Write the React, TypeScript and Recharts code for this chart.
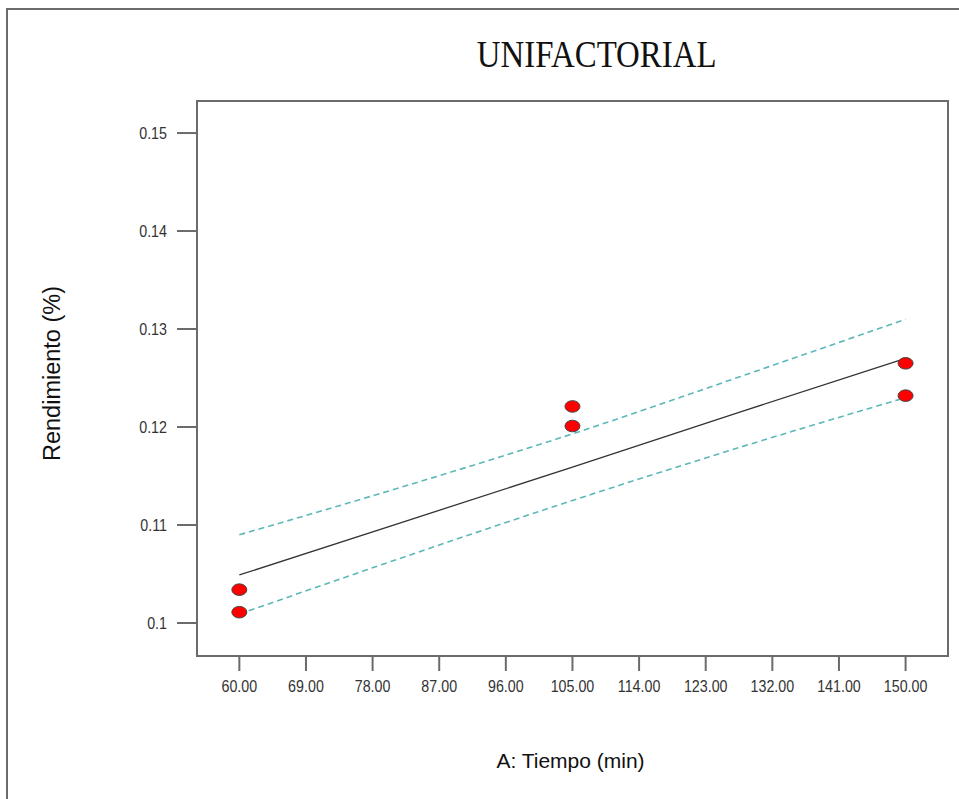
import {
  ComposedChart,
  Scatter,
  Line,
  XAxis,
  YAxis,
  ReferenceArea,
} from "recharts";

// observed runs
const tiempos = [60, 60, 105, 105, 150, 150];
const rendimientos = [0.1034, 0.1011, 0.1221, 0.1201, 0.1265, 0.1232];

// fitted line and 95% band
const bandX = [60, 82.5, 105, 127.5, 150];
const ajuste = [0.1049, 0.1104, 0.1159, 0.1215, 0.127];
const superior = [0.109, 0.114, 0.1193, 0.1251, 0.131];
const inferior = [0.1009, 0.1068, 0.1125, 0.1179, 0.123];

const xTicks = [60, 69, 78, 87, 96, 105, 114, 123, 132, 141, 150];
const yTicks = [0.1, 0.11, 0.12, 0.13, 0.14, 0.15];
const yTickLabels = ["0.1", "0.11", "0.12", "0.13", "0.14", "0.15"];

const X_DOMAIN = [54.28, 155.73];
const Y_DOMAIN = [0.09663, 0.15327];

const AXIS = "#6b6b6b";
const BAND = "#5cb8b8";
const SANS = "'Liberation Sans', Arial, sans-serif";

const puntos = tiempos.map((t, i) => ({ x: t, y: rendimientos[i] }));
const lineaAjuste = bandX.map((x, i) => ({ x, y: ajuste[i] }));
const lineaSup = bandX.map((x, i) => ({ x, y: superior[i] }));
const lineaInf = bandX.map((x, i) => ({ x, y: inferior[i] }));

function Punto(props: any) {
  const { cx, cy } = props;
  if (cx == null || cy == null) return null;
  return <ellipse cx={cx} cy={cy} rx={7.5} ry={5.8} fill="#ff0000" stroke="#444" strokeWidth={1} />;
}

function XTick(props: any) {
  const { x, y, payload } = props;
  return (
    <text
      transform={`translate(${x},${y}) scale(0.84,1)`}
      textAnchor="middle"
      dy="0.71em"
      fontSize={17}
      fontFamily={SANS}
      fill="#333"
    >
      {Number(payload.value).toFixed(2)}
    </text>
  );
}

function YTick(props: any) {
  const { x, y, payload } = props;
  const i = yTicks.indexOf(payload.value);
  return (
    <text
      transform={`translate(${x},${y}) scale(0.84,1)`}
      textAnchor="end"
      dy="0.355em"
      fontSize={17}
      fontFamily={SANS}
      fill="#333"
    >
      {i >= 0 ? yTickLabels[i] : payload.value}
    </text>
  );
}

export default function App() {
  return (
    <div style={{ position: "absolute", left: 0, top: 0, width: 959, height: 799, background: "#fff" }}>
      <div
        style={{
          position: "absolute",
          left: 6,
          top: 8,
          width: 960,
          height: 800,
          borderTop: `2px solid ${AXIS}`,
          borderLeft: `2px solid ${AXIS}`,
        }}
      />
      <div
        style={{
          position: "absolute",
          left: 0,
          width: 1194,
          top: 34,
          textAlign: "center",
          fontFamily: "'Liberation Serif', 'Times New Roman', serif",
          fontSize: 38,
          color: "#111",
          lineHeight: "40px",
        }}
      >
        <span style={{ display: "inline-block", transform: "scaleX(0.865)" }}>UNIFACTORIAL</span>
      </div>
      <div style={{ position: "absolute", left: 0, top: 0 }}>
        <ComposedChart
          width={959}
          height={799}
          margin={{ top: 101, right: 11, left: 0, bottom: 0 }}
        >
          <XAxis
            type="number"
            dataKey="x"
            domain={X_DOMAIN}
            ticks={xTicks}
            allowDataOverflow
            height={143}
            tickSize={15}
            tickMargin={9}
            tick={<XTick />}
            axisLine={{ stroke: AXIS, strokeWidth: 2 }}
            tickLine={{ stroke: AXIS, strokeWidth: 2 }}
            label={{
              content: (p: any) => {
                const vb = p.viewBox;
                return (
                  <text
                    x={vb.x + vb.width / 2 - 2}
                    y={768}
                    textAnchor="middle"
                    fontSize={21}
                    fontFamily={SANS}
                    fill="#111"
                  >
                    A: Tiempo (min)
                  </text>
                );
              },
            }}
          />
          <YAxis
            type="number"
            dataKey="y"
            domain={Y_DOMAIN}
            ticks={yTicks}
            allowDataOverflow
            width={197}
            tickSize={20}
            tickMargin={10}
            tick={<YTick />}
            axisLine={{ stroke: AXIS, strokeWidth: 2 }}
            tickLine={{ stroke: AXIS, strokeWidth: 2 }}
            label={{
              content: (p: any) => {
                const vb = p.viewBox;
                const cy = vb.y + vb.height / 2 - 5;
                return (
                  <text
                    x={52}
                    y={cy}
                    transform={`rotate(-90, 52, ${cy})`}
                    textAnchor="middle"
                    dy="0.35em"
                    fontSize={23.5}
                    fontFamily={SANS}
                    fill="#111"
                  >
                    Rendimiento (%)
                  </text>
                );
              },
            }}
          />
          <ReferenceArea
            x1={X_DOMAIN[0]}
            x2={X_DOMAIN[1]}
            y1={Y_DOMAIN[0]}
            y2={Y_DOMAIN[1]}
            fill="none"
            fillOpacity={0}
            stroke={AXIS}
            strokeWidth={2}
          />
          <Line
            data={lineaSup}
            dataKey="y"
            type="monotone"
            stroke={BAND}
            strokeWidth={1.6}
            strokeDasharray="6 4"
            dot={false}
            activeDot={false}
            isAnimationActive={false}
          />
          <Line
            data={lineaInf}
            dataKey="y"
            type="monotone"
            stroke={BAND}
            strokeWidth={1.6}
            strokeDasharray="6 4"
            dot={false}
            activeDot={false}
            isAnimationActive={false}
          />
          <Line
            data={lineaAjuste}
            dataKey="y"
            type="linear"
            stroke="#333"
            strokeWidth={1.3}
            dot={false}
            activeDot={false}
            isAnimationActive={false}
          />
          <Scatter data={puntos} dataKey="y" shape={<Punto />} isAnimationActive={false} />
        </ComposedChart>
      </div>
    </div>
  );
}
